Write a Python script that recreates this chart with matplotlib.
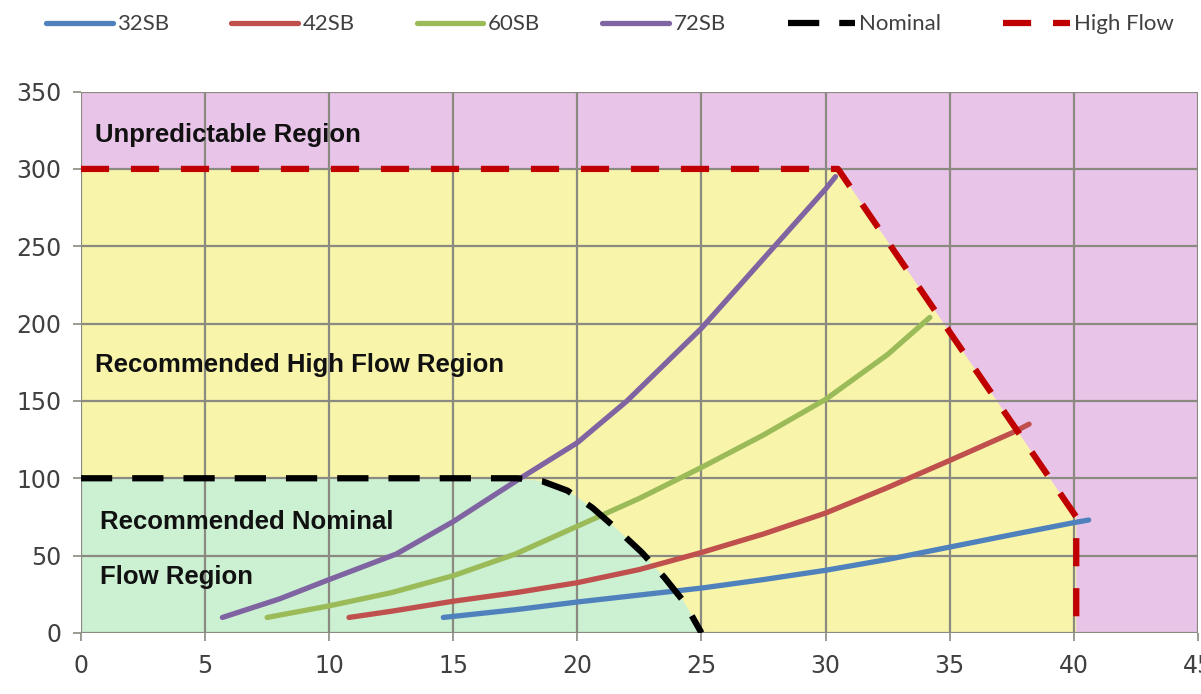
import numpy as np
import matplotlib.pyplot as plt
from matplotlib.patches import Polygon

# flow curves (x, y)
x_32 = [14.6, 17.5, 20, 22.5, 25, 27.5, 30, 32.5, 35, 37.5, 40, 40.6]
y_32 = [10, 15, 20, 24.5, 29, 34.5, 40.5, 47.5, 55.5, 63.5, 71.3, 73]

x_42 = [10.8, 12.5, 15, 17.5, 20, 22.5, 25, 27.5, 30, 32.5, 35, 37.6, 38.2]
y_42 = [10, 14, 20.5, 26, 32.5, 41, 52, 64, 77.5, 94, 111.5, 130, 135]

x_60 = [7.5, 10, 12.5, 15, 17.5, 20, 22.5, 25, 27.5, 30, 32.5, 34.2]
y_60 = [10, 17.5, 26, 37, 51, 69, 87, 107, 128, 151, 180, 204]

x_72 = [5.7, 8, 10, 12.7, 15, 17.7, 20, 22, 25, 27.5, 30, 30.4]
y_72 = [10, 22, 34.5, 51, 72, 100, 123, 150, 197, 242, 287, 295]

# operating limits
nom_x = [0, 17.6, 18.6, 19.6, 20.6, 21.6, 22.6, 23.5, 24.3, 25]
nom_y = [100, 100, 98, 92, 81, 67, 52, 36, 20, 0]

high_x = [0, 30.5, 40.1, 40.1]
high_y = [300, 300, 75, 0]

series = [
    ("32SB", x_32, y_32, "#4F81BD"),
    ("42SB", x_42, y_42, "#C0504D"),
    ("60SB", x_60, y_60, "#9BBB59"),
    ("72SB", x_72, y_72, "#8064A2"),
]

fig = plt.figure(figsize=(12.01, 6.94), dpi=100)
ax = fig.add_axes([0.0674, 0.088, 0.93, 0.78])
ax.set_xlim(0, 45)
ax.set_ylim(0, 350)

# region shading
ax.set_facecolor("#E9C4E9")
ax.add_patch(Polygon(list(zip(high_x, high_y)) + [(0, 0)], closed=True,
                     facecolor="#F8F4AA", edgecolor="none", zorder=0.5))
ax.add_patch(Polygon(list(zip(nom_x, nom_y)) + [(0, 0)], closed=True,
                     facecolor="#CBF0D2", edgecolor="none", zorder=0.6))

ax.set_xticks(np.arange(0, 46, 5))
ax.set_yticks(np.arange(0, 351, 50))
ax.grid(True, color="#8A8A80", linewidth=1.6, zorder=1)
ax.set_axisbelow(False)
for s in ax.spines.values():
    s.set_visible(False)
ax.tick_params(axis="both", labelsize=17, colors="#8A8A80", labelcolor="#404040",
               length=6, width=1.2)
ax.tick_params(axis="x", pad=9)
ax.tick_params(axis="y", pad=8)

handles = []
for name, xs, ys, col in series:
    h, = ax.plot(xs, ys, color=col, linewidth=3.8, label=name, zorder=3,
                 solid_capstyle="round", solid_joinstyle="round")
    handles.append(h)

h, = ax.plot(nom_x, nom_y, color="black", linewidth=4.5, dashes=(5, 3.2),
             label="Nominal", zorder=4)
handles.append(h)
h, = ax.plot(high_x, high_y, color="#C00000", linewidth=4.5, dashes=(4.5, 3.5),
             label="High Flow", zorder=4)
handles.append(h)

txt = dict(fontsize=18.5, fontweight="bold", color="#111111",
           family="Liberation Sans", zorder=5)
ax.text(0.55, 322, "Unpredictable Region", va="center", **txt)
ax.text(0.55, 173, "Recommended High Flow Region", va="center", **txt)
ax.text(0.75, 72, "Recommended Nominal", va="center", **txt)
ax.text(0.75, 36, "Flow Region", va="center", **txt)

fig.legend(handles=handles, loc="upper center", bbox_to_anchor=(0.508, 1.008),
           ncol=6, frameon=False, handlelength=3.0,
           prop={"family": "Lato", "size": 16},
           handletextpad=0.2, columnspacing=2.8, labelcolor="#404040")

fig.savefig("out.png", dpi=100)
